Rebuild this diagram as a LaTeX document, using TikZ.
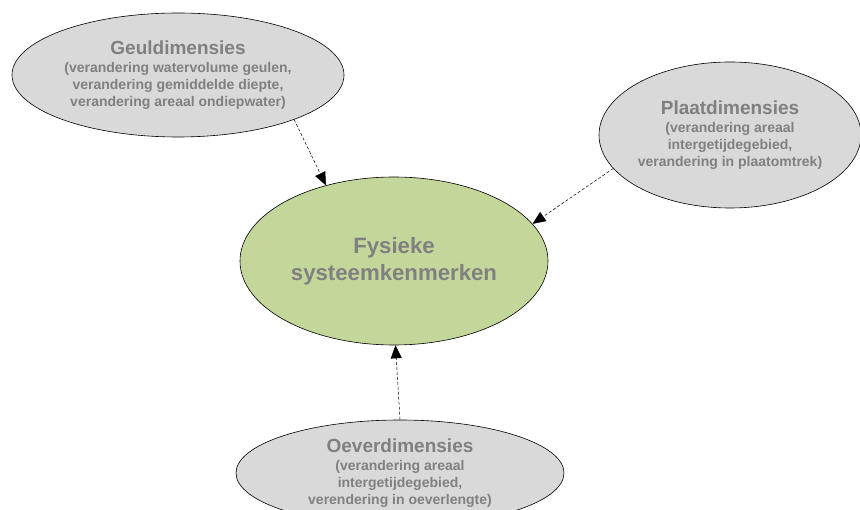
\documentclass[tikz,border=0pt]{standalone}
\usepackage{fontspec}
\setmainfont{Liberation Sans}
\usetikzlibrary{shapes.geometric,arrows.meta}
\definecolor{txtgray}{HTML}{808080}
\definecolor{bubblegray}{HTML}{D9D9D9}
\definecolor{bubblegreen}{HTML}{C4D79B}
\tikzset{
  bubble/.style={ellipse, draw=black, line width=0.6pt, fill=bubblegray, inner sep=0pt,
    align=center, text=txtgray, font=\bfseries\fontsize{14}{16.8}\selectfont},
  core/.style={bubble, fill=bubblegreen, font=\bfseries\fontsize{22.2}{27}\selectfont},
  influence/.style={densely dashed, line width=0.5pt, black,
    -{Triangle[length=13pt,width=11pt]}}
}
\newcommand{\bubbletitle}[1]{{\fontsize{19}{21}\selectfont #1}\\[1pt]}
\begin{document}
\begin{tikzpicture}[x=1pt,y=-1pt]
  \useasboundingbox (0,0) rectangle (860,510);
  \fill[white] (0,0) rectangle (860,510);

  % physical system characteristics in the middle
  \node[core, minimum width=308pt, minimum height=168pt] (fys) at (394,261)
    {Fysieke\\systeemkenmerken};

  % the three groups of dimensions
  \node[bubble, minimum width=332pt, minimum height=124pt] (geul) at (178,75)
    {\bubbletitle{Geuldimensies}(verandering watervolume geulen,\\verandering gemiddelde diepte,\\verandering areaal ondiepwater)};
  \node[bubble, minimum width=262pt, minimum height=146pt] (plaat) at (730,135)
    {\bubbletitle{Plaatdimensies}(verandering areaal\\intergetijdegebied,\\verandering in plaatomtrek)};
  \node[bubble, minimum width=328pt, minimum height=106pt] (oever) at (400,473)
    {\bubbletitle{Oeverdimensies}(verandering areaal\\intergetijdegebied,\\verendering in oeverlengte)};

  % influences
  \draw[influence] (geul.-21) -- (fys.132.6);
  \draw[influence] (plaat.196.6) -- (fys.15.7);
  \draw[influence] (oever.90) -- (fys.-89.5);
\end{tikzpicture}
\end{document}
